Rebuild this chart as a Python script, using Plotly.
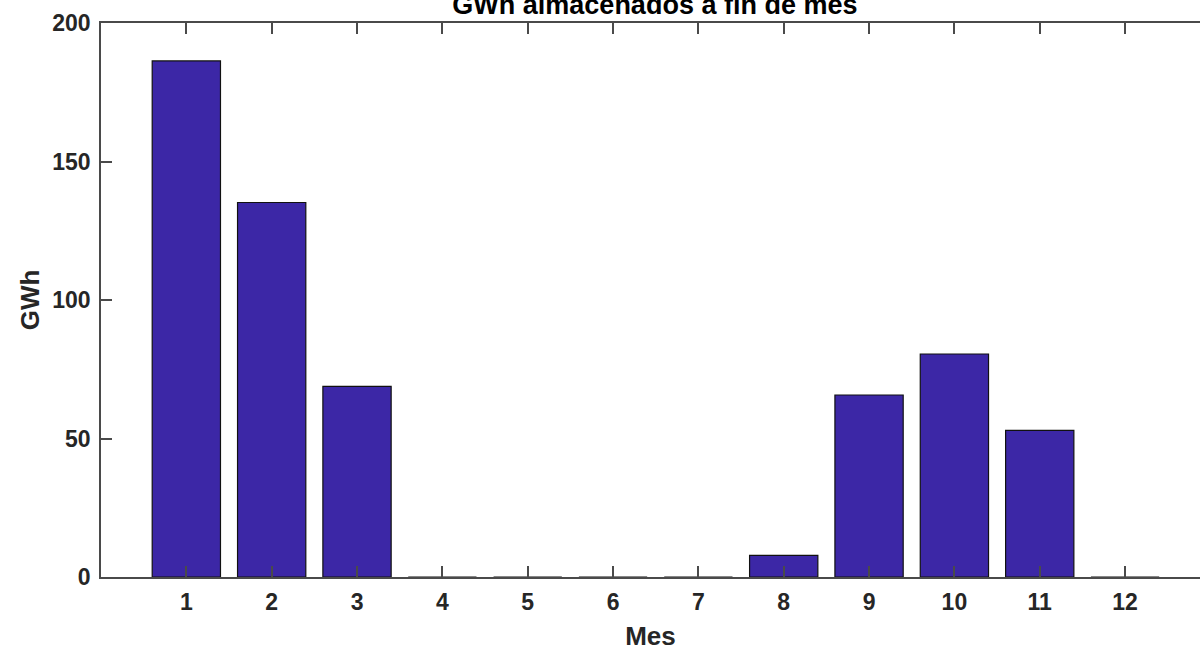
import plotly.graph_objects as go

# Monthly stored energy at month end
meses = [1, 2, 3, 4, 5, 6, 7, 8, 9, 10, 11, 12]
gwh = [186.3, 135.2, 68.8, 0, 0, 0, 0, 7.8, 65.7, 80.5, 52.9, 0]
y_ticks = [0, 50, 100, 150, 200]

bar_color = "#3C27A6"
text_color = "#262626"
axis_color = "#4a4a4a"
font_family = "Arial, Liberation Sans, sans-serif"

fig = go.Figure(
    go.Bar(
        x=meses,
        y=gwh,
        width=0.8,
        marker=dict(color=bar_color, line=dict(color="#111111", width=1.2)),
    )
)

fig.update_layout(
    width=1200,
    height=651,
    margin=dict(l=101, r=0, t=23, b=74),
    paper_bgcolor="white",
    plot_bgcolor="white",
    showlegend=False,
    font=dict(family=font_family, color=text_color),
    title=dict(
        text="<b>GWh almacenados a fin de mes</b>",
        font=dict(size=27, family=font_family, color="#000000"),
        x=0.504,
        xanchor="center",
        xref="paper",
        yref="container",
        y=1 - 14 / 651,
        yanchor="bottom",
    ),
)

fig.update_xaxes(
    range=[0, 12.878],
    tickmode="array",
    tickvals=meses,
    ticktext=[f"<b>{m}</b>" for m in meses],
    ticks="inside",
    ticklen=11,
    tickwidth=1.5,
    tickcolor=axis_color,
    showline=True,
    linecolor=axis_color,
    linewidth=1.5,
    mirror="ticks",
    showgrid=False,
    zeroline=False,
    ticklabelstandoff=4,
    tickfont=dict(size=23, color=text_color),
    title=dict(text="<b>Mes</b>", font=dict(size=26, color=text_color), standoff=15),
)

fig.update_yaxes(
    range=[0, 200],
    tickmode="array",
    tickvals=y_ticks,
    ticktext=[f"<b>{v}</b>" for v in y_ticks],
    ticks="inside",
    ticklen=11,
    tickwidth=1.5,
    tickcolor=axis_color,
    showline=True,
    linecolor=axis_color,
    linewidth=1.5,
    mirror=False,
    showgrid=False,
    zeroline=False,
    ticklabelstandoff=4,
    tickfont=dict(size=23, color=text_color),
    title=dict(text="<b>GWh</b>", font=dict(size=26, color=text_color), standoff=5),
)

fig.write_html("out.html")
